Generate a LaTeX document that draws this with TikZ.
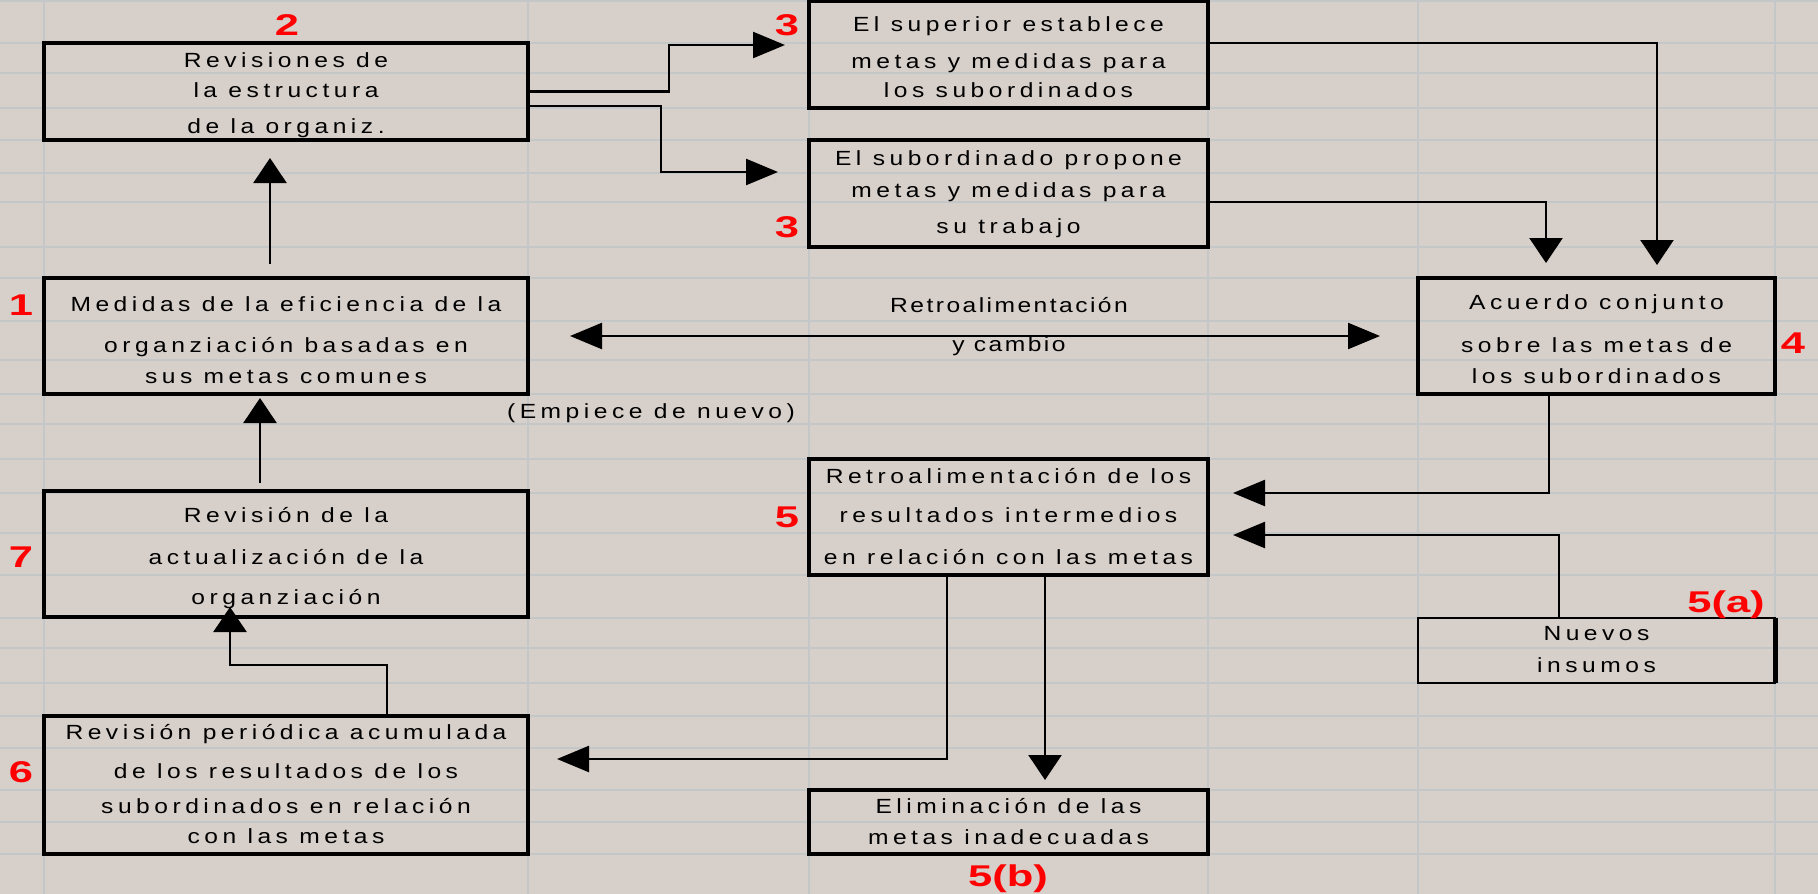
\documentclass[tikz,border=0pt]{standalone}
\usepackage{fontspec}
\setmainfont{Liberation Sans}
\newfontfamily\boxfont[FakeStretch=1.2,LetterSpace=22]{Liberation Sans}
\newfontfamily\midfont[FakeStretch=1.2,LetterSpace=12]{Liberation Sans}
\newfontfamily\numfont[FakeStretch=1.45]{Liberation Sans}
\usetikzlibrary{arrows.meta}
\definecolor{bgc}{HTML}{D7CFC9}
\definecolor{gridc}{HTML}{C4C7C8}
\definecolor{lblred}{HTML}{FF0000}
\begin{document}
\begin{tikzpicture}[x=1pt,y=-1pt,
  gridline/.style={draw=gridc, line width=2pt},
  box/.style={draw=black, line width=4.5pt, rectangle, inner sep=0pt, outer sep=0pt},
  thinbox/.style={draw=black, line width=2.8pt, rectangle, inner sep=0pt, outer sep=0pt},
  txt/.style={anchor=base, inner sep=0pt, font=\boxfont\fontsize{20.5}{20.5}\selectfont},
  midtxt/.style={anchor=base, inner sep=0pt, font=\midfont\fontsize{20.5}{20.5}\selectfont},
  lbl/.style={anchor=base, inner sep=0pt, text=lblred, font=\numfont\bfseries\fontsize{30}{30}\selectfont},
  conn/.style={draw=black, line width=2.4pt},
  harr/.style={conn, -{Triangle[length=32pt,width=26pt]}},
  varr/.style={conn, -{Triangle[length=25pt,width=33pt]}},
  biarr/.style={conn, {Triangle[length=32pt,width=26pt]}-{Triangle[length=32pt,width=26pt]}}
]
\useasboundingbox (0,0) rectangle (1818,894);
\fill[bgc] (0,0) rectangle (1818,894);
% spreadsheet grid
\foreach \gy in {1,43,73,108,140,173,202,247,278,321,360,394,424,459,493,533,575,618,648,683,716,748,790,822,854}
  \draw[gridline] (0,\gy) -- (1818,\gy);
\foreach \gx in {44,528,809,1208,1418,1775}
  \draw[gridline] (\gx,0) -- (\gx,894);

% boxes
\node[box, minimum width=484pt, minimum height=97pt]  (b2)  at (286,91.5) {};
\node[box, minimum width=484pt, minimum height=116pt] (b1)  at (286,336) {};
\node[box, minimum width=484pt, minimum height=126pt] (b7)  at (286,554) {};
\node[box, minimum width=484pt, minimum height=138pt] (b6)  at (286,785) {};
\node[box, minimum width=399pt, minimum height=107pt] (b3a) at (1008.5,54.5) {};
\node[box, minimum width=399pt, minimum height=107pt] (b3b) at (1008.5,193.5) {};
\node[box, minimum width=357pt, minimum height=116pt] (b4)  at (1596.5,336) {};
\node[box, minimum width=399pt, minimum height=116pt] (b5)  at (1008.5,517) {};
\node[box, minimum width=399pt, minimum height=64pt]  (b5b) at (1008.5,822) {};
\node[thinbox, minimum width=357pt, minimum height=65pt] (b5a) at (1596.5,650.5) {};
\draw[line width=5pt] (b5a.north east) -- (b5a.south east);

% box texts
\node[txt] (t2a) at (286,67)  {Revisiones de};
\node[txt] (t2b) at (286,97)  {la estructura};
\node[txt] (t2c) at (286,133) {de la organiz.};

\node[txt] (t1a) at (286,311) {Medidas de la eficiencia de la};
\node[txt] (t1b) at (286,352) {organziación basadas en};
\node[txt] (t1c) at (286,383) {sus metas comunes};

\node[txt] (t7a) at (286,522) {Revisión de la};
\node[txt] (t7b) at (286,564) {actualización de la};
\node[txt] (t7c) at (286,604) {organziación};

\node[txt] (t6a) at (286,739) {Revisión periódica acumulada};
\node[txt] (t6b) at (286,778) {de los resultados de los};
\node[txt] (t6c) at (286,813) {subordinados en relación};
\node[txt] (t6d) at (286,843) {con las metas};

\node[txt] (t3a1) at (1008.5,31) {El superior establece};
\node[txt] (t3a2) at (1008.5,68) {metas y medidas para};
\node[txt] (t3a3) at (1008.5,97) {los subordinados};

\node[txt] (t3b1) at (1008.5,165) {El subordinado propone};
\node[txt] (t3b2) at (1008.5,197) {metas y medidas para};
\node[txt] (t3b3) at (1008.5,233) {su trabajo};

\node[txt] (t4a) at (1596.5,309) {Acuerdo conjunto};
\node[txt] (t4b) at (1596.5,352) {sobre las metas de};
\node[txt] (t4c) at (1596.5,383) {los subordinados};

\node[txt] (t5a) at (1008.5,483) {Retroalimentación de los};
\node[txt] (t5b) at (1008.5,522) {resultados intermedios};
\node[txt] (t5c) at (1008.5,564) {en relación con las metas};

\node[txt] (t5ba) at (1008.5,813) {Eliminación de las};
\node[txt] (t5bb) at (1008.5,844) {metas inadecuadas};

\node[txt] (t5aa) at (1596.5,640) {Nuevos};
\node[txt] (t5ab) at (1596.5,672) {insumos};

% free labels
\node[midtxt] (retro) at (1009,312) {Retroalimentación};
\node[midtxt] (cambio) at (1009,351) {y cambio};
\node[txt] (empiece) at (651,418) {(Empiece de nuevo)};

% red step labels
\node[lbl] (n2)  at (287,35)   {2};
\node[lbl] (n3a) at (787,35)   {3};
\node[lbl] (n3b) at (787,237)  {3};
\node[lbl] (n1)  at (21,315)   {1};
\node[lbl] (n7)  at (21,567)   {7};
\node[lbl] (n6)  at (21,782)   {6};
\node[lbl] (n4)  at (1793,353) {4};
\node[lbl] (n5)  at (787,527)  {5};
\node[lbl] (n5b) at (1008,886) {5(b)};
\node[lbl] (n5a) at (1726,612) {5(a)};

% connectors
\draw[varr, shorten <=14pt, shorten >=18pt] ([xshift=-16pt]b1.north) -- ([xshift=-16pt]b2.south);
\draw[varr, shorten <=8pt, shorten >=4pt] ([xshift=-26pt]b7.north) -- ([xshift=-26pt]b1.south);
\draw[varr] ([xshift=101pt]b6.north) -- ++(0,-51) -| ([xshift=-56pt,yshift=10pt]b7.south);
\draw[harr] (b2.east) -- ++(141,0) |- ([xshift=-24pt,yshift=9.5pt]b3a.west);
\draw[harr] ([yshift=-14.5pt]b2.east) -- ++(133,0) |- ([xshift=-31pt,yshift=21.5pt]b3b.west);
\draw[varr] ([yshift=11.5pt]b3a.east) -| ([xshift=60.5pt,yshift=13pt]b4.north);
\draw[varr] ([yshift=-8.5pt]b3b.east) -| ([xshift=-50.5pt,yshift=15pt]b4.north);
\draw[biarr, shorten <=42pt, shorten >=38pt] (b1.east) -- (b4.west);
\draw[harr] ([xshift=-47.5pt]b4.south) |- ([xshift=25pt,yshift=24pt]b5.east);
\draw[harr] ([xshift=-37.5pt]b5a.north) |- ([xshift=25pt,yshift=-18pt]b5.east);
\draw[harr] ([xshift=-61.5pt]b5.south) |- ([xshift=29pt,yshift=26pt]b6.east);
\draw[varr] ([xshift=36.5pt]b5.south) -- ([xshift=36.5pt,yshift=10pt]b5b.north);
\end{tikzpicture}
\end{document}
